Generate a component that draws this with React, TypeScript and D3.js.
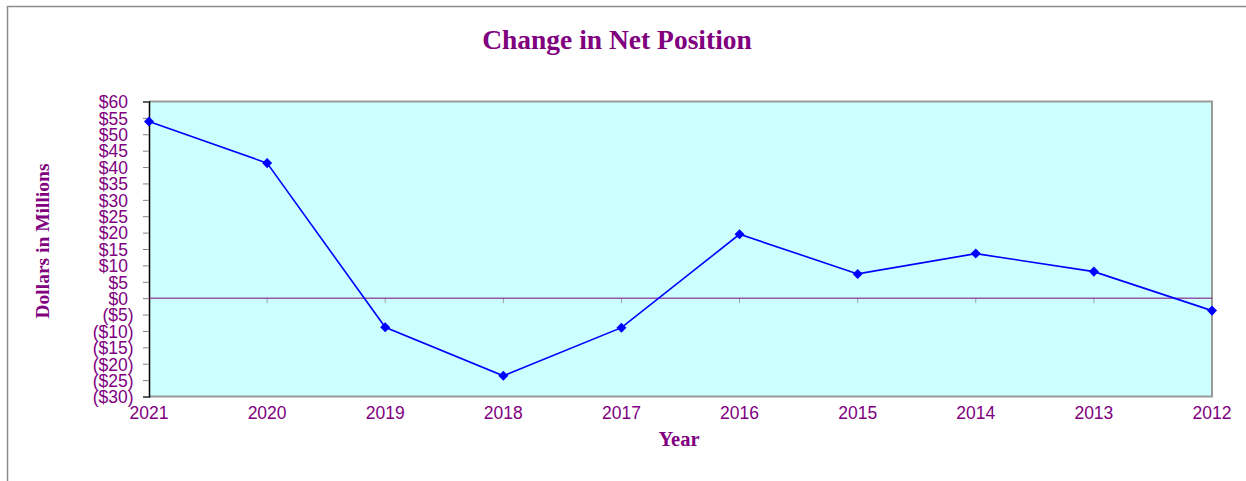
import { useEffect, useRef } from "react";
import * as d3 from "d3";

const YEARS = ["2021", "2020", "2019", "2018", "2017", "2016", "2015", "2014", "2013", "2012"];
const NET_CHANGE = [53.9, 41.2, -8.9, -23.7, -9.0, 19.5, 7.4, 13.6, 8.1, -3.8];
const Y_TICKS = d3.range(-30, 61, 5);

const PURPLE = "#800080";

export default function App() {
  const svgRef = useRef<SVGSVGElement>(null);

  useEffect(() => {
    const svg = d3.select(svgRef.current);
    svg.selectAll("*").remove();
    const W = 1246;
    const H = 481;
    const plot = { left: 149, top: 101.5, right: 1212, bottom: 396.5 };

    const x = d3.scalePoint().domain(YEARS).range([plot.left, plot.right]);
    const y = d3.scaleLinear().domain([-30, 60]).range([plot.bottom, plot.top]);

    svg.attr("width", W).attr("height", H);

    // outer chart frame (runs off the right and bottom edges)
    svg
      .append("rect")
      .attr("x", 7.5)
      .attr("y", 6.5)
      .attr("width", W + 20)
      .attr("height", H + 20)
      .attr("fill", "#fff")
      .attr("stroke", "#8c8c8c")
      .attr("stroke-width", 1.5);

    svg
      .append("rect")
      .attr("x", plot.left)
      .attr("y", plot.top)
      .attr("width", plot.right - plot.left)
      .attr("height", plot.bottom - plot.top)
      .attr("fill", "#ccffff");

    // plot frame: gray top/right/bottom
    svg
      .append("path")
      .attr(
        "d",
        `M${plot.left},${plot.top}H${plot.right}V${plot.bottom}H${plot.left}`,
      )
      .attr("fill", "none")
      .attr("stroke", "#9a9a9a")
      .attr("stroke-width", 2);

    // y axis
    const yAxis = svg
      .append("g")
      .attr("transform", `translate(${plot.left},0)`)
      .call(
        d3
          .axisLeft(y)
          .tickValues(Y_TICKS)
          .tickSize(6)
          .tickPadding(15)
          .tickFormat((d) => {
            const v = +d;
            return v < 0 ? `($${-v})` : `$${v}`;
          }),
      );
    yAxis.select(".domain").attr("stroke", "#000").attr("stroke-width", 1.5);
    yAxis.selectAll(".tick line").attr("stroke", "#808080");
    yAxis
      .selectAll<SVGTextElement, number>(".tick text")
      .attr("fill", PURPLE)
      .attr("font-family", "Liberation Sans, Arial, sans-serif")
      .attr("font-size", 17.5)
      .attr("x", (d) => (d < 0 ? -15.5 : -21))
      .attr("dy", "0.36em");

    // zero line with category ticks
    const zero = y(0);
    svg
      .append("g")
      .selectAll("line")
      .data(YEARS.slice(1, -1))
      .join("line")
      .attr("x1", (d) => x(d)!)
      .attr("x2", (d) => x(d)!)
      .attr("y1", zero)
      .attr("y2", zero + 5)
      .attr("stroke", "#a0a0a0");
    svg
      .append("line")
      .attr("x1", plot.left)
      .attr("x2", plot.right)
      .attr("y1", zero)
      .attr("y2", zero)
      .attr("stroke", PURPLE)
      .attr("stroke-width", 1);

    // x labels
    svg
      .append("g")
      .selectAll("text")
      .data(YEARS)
      .join("text")
      .attr("x", (d) => x(d)!)
      .attr("y", 419)
      .attr("text-anchor", "middle")
      .attr("fill", PURPLE)
      .attr("font-family", "Liberation Sans, Arial, sans-serif")
      .attr("font-size", 17.5)
      .text((d) => d);

    const pts = YEARS.map((yr, i) => ({ yr, v: NET_CHANGE[i] }));
    const line = d3
      .line<{ yr: string; v: number }>()
      .x((d) => x(d.yr)!)
      .y((d) => y(d.v));
    svg
      .append("path")
      .datum(pts)
      .attr("d", line)
      .attr("fill", "none")
      .attr("stroke", "#0000ff")
      .attr("stroke-width", 1.6);

    svg
      .append("g")
      .selectAll("path")
      .data(pts)
      .join("path")
      .attr("transform", (d) => `translate(${x(d.yr)},${y(d.v)})`)
      .attr("d", d3.symbol(d3.symbolDiamond2, 64)())
      .attr("fill", "#0000ff");

    const serif = "Liberation Serif, Times New Roman, serif";
    svg
      .append("text")
      .attr("x", 617)
      .attr("y", 49)
      .attr("text-anchor", "middle")
      .attr("fill", PURPLE)
      .attr("font-family", serif)
      .attr("font-weight", "bold")
      .attr("font-size", 27.5)
      .text("Change in Net Position");

    svg
      .append("text")
      .attr("x", 679)
      .attr("y", 446)
      .attr("text-anchor", "middle")
      .attr("fill", PURPLE)
      .attr("font-family", serif)
      .attr("font-weight", "bold")
      .attr("font-size", 20.5)
      .text("Year");

    svg
      .append("text")
      .attr("transform", "translate(49,241) rotate(-90)")
      .attr("text-anchor", "middle")
      .attr("fill", PURPLE)
      .attr("font-family", serif)
      .attr("font-weight", "bold")
      .attr("font-size", 19.5)
      .text("Dollars in Millions");
  }, []);

  return (
    <svg
      ref={svgRef}
      style={{ position: "absolute", left: 0, top: 0, display: "block" }}
    />
  );
}
